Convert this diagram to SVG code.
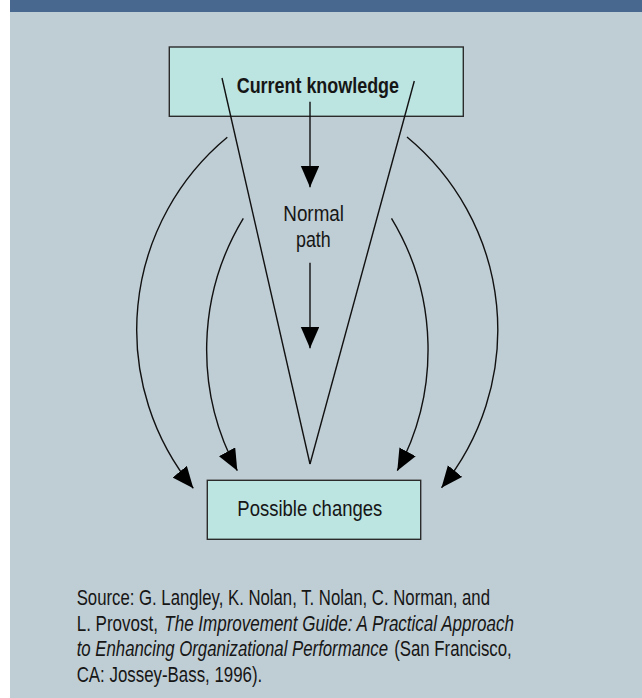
<svg xmlns="http://www.w3.org/2000/svg" width="642" height="698" viewBox="0 0 642 698">
  <style>
    .node rect { fill: #bce4e1; stroke: #2b2b2b; stroke-width: 1.4; }
    .txt { font-family: "Liberation Sans Narrow", "Liberation Sans", Arial, sans-serif; font-size: 21.5px; fill: #161616; }
    .bold { font-weight: bold; }
    .it { font-style: italic; }
    .up { font-style: normal; }
    .edge { fill: none; stroke: #111; stroke-width: 1.4; }
  </style>
  <defs>
    <marker id="arrow" markerUnits="userSpaceOnUse" markerWidth="22" markerHeight="19" refX="21.5" refY="9.25" orient="auto">
      <path d="M0,0 L21.5,9.25 L0,18.5 z" fill="#000"/>
    </marker>
  </defs>

  <rect x="0" y="0" width="642" height="698" fill="#ffffff"/>
  <rect x="10" y="0" width="632" height="698" fill="#bfcdd4"/>
  <rect x="10" y="0" width="632" height="12" fill="#48688f"/>

  <g id="node-current-knowledge" class="node">
    <rect x="169.3" y="47" width="294" height="69.3"/>
    <text class="txt bold" x="236.7" y="93" textLength="162.3" lengthAdjust="spacingAndGlyphs">Current knowledge</text>
  </g>

  <g id="node-possible-changes" class="node">
    <rect x="207.3" y="480.3" width="213.4" height="59"/>
    <text class="txt" x="237.3" y="515.7" textLength="145" lengthAdjust="spacingAndGlyphs">Possible changes</text>
  </g>

  <g id="funnel">
    <line class="edge" x1="222" y1="78" x2="310" y2="464"/>
    <line class="edge" x1="414.3" y1="81" x2="310" y2="464"/>
  </g>

  <g id="connectors">
    <line class="edge" x1="310" y1="101.7" x2="310" y2="187.3" marker-end="url(#arrow)"/>
    <line class="edge" x1="310" y1="262.7" x2="310" y2="348.3" marker-end="url(#arrow)"/>
    <path class="edge" d="M227.3,137.3 A250 250 0 0 0 193.3,488.3" marker-end="url(#arrow)"/>
    <path class="edge" d="M243.3,218.3 A254 254 0 0 0 237.3,470.7" marker-end="url(#arrow)"/>
    <path class="edge" d="M391.5,218.3 A254 254 0 0 1 397.3,470.7" marker-end="url(#arrow)"/>
    <path class="edge" d="M407,137 A250 250 0 0 1 441.5,487.8" marker-end="url(#arrow)"/>
    <text class="txt" x="283.3" y="220.7" textLength="60.7" lengthAdjust="spacingAndGlyphs">Normal</text>
    <text class="txt" x="296" y="246.7" textLength="34.7" lengthAdjust="spacingAndGlyphs">path</text>
  </g>

  <g id="source">
    <text class="txt" x="76.7" y="605" textLength="413.3" lengthAdjust="spacingAndGlyphs">Source: G. Langley, K. Nolan, T. Nolan, C. Norman, and</text>
    <text class="txt" x="76.7" y="630.5" textLength="437.3" lengthAdjust="spacingAndGlyphs">L. Provost, <tspan class="it" dx="2">The Improvement Guide: A Practical Approach</tspan></text>
    <text class="txt it" x="76.7" y="656.2" textLength="435" lengthAdjust="spacingAndGlyphs">to Enhancing Organizational Performance <tspan class="up" dx="2">(San Francisco,</tspan></text>
    <text class="txt" x="76.7" y="681.8" textLength="185.6" lengthAdjust="spacingAndGlyphs">CA: Jossey-Bass, 1996).</text>
  </g>
</svg>
